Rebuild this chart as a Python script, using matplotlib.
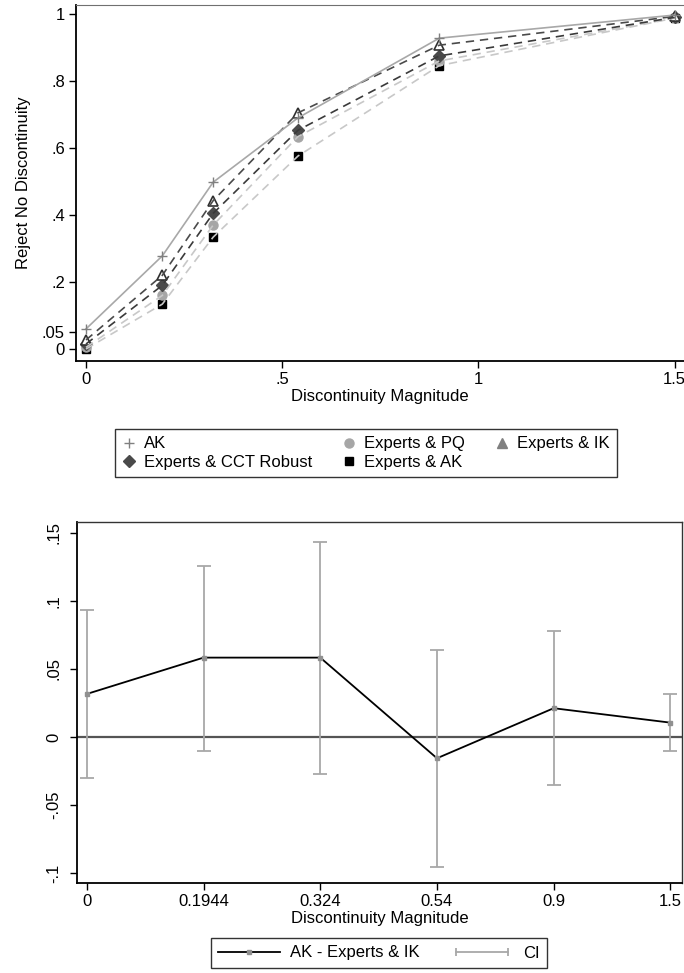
from matplotlib import pyplot as plt
from matplotlib.lines import Line2D
from matplotlib.legend_handler import HandlerLine2D
import numpy as np

# discontinuity magnitudes
mag = [0, 0.1944, 0.324, 0.54, 0.9, 1.5]
mag_labels = ["0", "0.1944", "0.324", "0.54", "0.9", "1.5"]

# rejection rates (top panel)
ak = [0.060, 0.278, 0.498, 0.690, 0.928, 0.997]
exp_ik = [0.027, 0.220, 0.443, 0.705, 0.907, 0.993]
exp_cct = [0.015, 0.190, 0.405, 0.653, 0.875, 0.990]
exp_pq = [0.005, 0.160, 0.370, 0.634, 0.860, 0.988]
exp_ak = [0.000, 0.134, 0.334, 0.576, 0.846, 0.988]

# AK - Experts & IK difference with CI (bottom panel)
diff = [0.0316, 0.0583, 0.0583, -0.0157, 0.0211, 0.0105]
ci_lo = [-0.0301, -0.0101, -0.0274, -0.0954, -0.0353, -0.0101]
ci_hi = [0.0934, 0.1260, 0.1436, 0.0642, 0.0779, 0.0314]

plt.rcParams["font.family"] = ["Liberation Sans", "DejaVu Sans"]
plt.rcParams["font.size"] = 12

W, H = 684, 973
fig = plt.figure(figsize=(W / 100, H / 100), dpi=100)

# ---- top panel ----
ax1 = fig.add_axes([76 / W, 1 - 361 / H, 1 - 76 / W, (361 - 5) / H])
ax1.plot(mag, exp_ak, color="#c8c8c8", ls=(0, (5, 3.5)), lw=1.2, zorder=2)
ax1.plot(mag, exp_pq, color="#c8c8c8", ls=(0, (5, 3.5)), lw=1.2, zorder=2)
ax1.plot(mag, exp_cct, color="#3a3a3a", ls=(0, (5, 3.5)), lw=1.2, zorder=2)
ax1.plot(mag, exp_ik, color="#4a4a4a", ls=(0, (5, 3.5)), lw=1.2, zorder=2)
ax1.plot(mag, ak, color="#a8a8a8", lw=1.2, zorder=2)

ax1.plot(mag, exp_ak, ls="none", marker="s", ms=6, color="black", zorder=1)
ax1.plot(mag, exp_pq, ls="none", marker="o", ms=6.5, color="#a6a6a6", zorder=1)
ax1.plot(mag, exp_cct, ls="none", marker="D", ms=6, color="#4a4a4a", zorder=1)
ax1.plot(mag, exp_ik, ls="none", marker="^", ms=7, mfc="white", mec="#303030", mew=1.2, zorder=1)
ax1.plot(mag, ak, ls="none", marker="+", ms=7, color="#808080", mew=1, zorder=3)

ax1.set_xlim(-0.0255, 1.5236)
ax1.set_ylim(-0.0358, 1.027)
ax1.set_xticks([0, 0.5, 1, 1.5])
ax1.set_xticklabels(["0", ".5", "1", "1.5"])
ax1.set_yticks([0, 0.05, 0.2, 0.4, 0.6, 0.8, 1])
ax1.set_yticklabels(["0", ".05", ".2", ".4", ".6", ".8", "1"])
ax1.tick_params(length=5, width=1, pad=3)
ax1.set_xlabel("Discontinuity Magnitude", labelpad=1)
ax1.set_ylabel("Reject No Discontinuity", labelpad=8)
ax1.spines["right"].set_visible(False)
ax1.spines["top"].set_color("#707070")
for s in ["left", "bottom"]:
    ax1.spines[s].set_linewidth(1.3)

handles1 = [
    Line2D([], [], ls="none", marker="+", ms=7, color="#808080", mew=1),
    Line2D([], [], ls="none", marker="D", ms=6, color="#4a4a4a"),
    Line2D([], [], ls="none", marker="o", ms=6.5, color="#a6a6a6"),
    Line2D([], [], ls="none", marker="s", ms=6, color="black"),
    Line2D([], [], ls="none", marker="^", ms=7, color="#808080"),
]
labels1 = ["AK", "Experts & CCT Robust", "Experts & PQ", "Experts & AK", "Experts & IK"]
leg1 = fig.legend(handles1, labels1, ncol=3, loc="center",
                  bbox_to_anchor=(366 / W, 1 - 453 / H),
                  frameon=True, fancybox=False, edgecolor="black",
                  handlelength=0.8, handletextpad=0.5, columnspacing=1.8,
                  borderpad=0.45, labelspacing=0.2, borderaxespad=0)
leg1.get_frame().set_linewidth(1.0)

# ---- bottom panel ----
x = np.arange(len(mag))
ax2 = fig.add_axes([77 / W, 1 - 883 / H, (682 - 77) / W, (883 - 522) / H])
ax2.axhline(0, color="#555555", lw=1.6, zorder=1)
ax2.errorbar(x, diff, yerr=[np.array(diff) - np.array(ci_lo), np.array(ci_hi) - np.array(diff)],
             fmt="none", ecolor="#a8a8a8", elinewidth=1.3, capsize=5, capthick=1.3, zorder=2)
ax2.plot(x, diff, color="black", lw=1.3, marker="s", ms=2.5, mfc="#909090", mec="#909090", zorder=3)

ax2.set_xlim(-0.085, 5.1)
ax2.set_ylim(-0.1074, 0.158)
ax2.set_xticks(x)
ax2.set_xticklabels(mag_labels)
ax2.set_yticks([-0.1, -0.05, 0, 0.05, 0.1, 0.15])
ax2.set_yticklabels(["-.1", "-.05", "0", ".05", ".1", ".15"], rotation=90, va="center")
ax2.tick_params(length=5, width=1, pad=3)
ax2.tick_params(axis="y", pad=6)
ax2.set_xlabel("Discontinuity Magnitude", labelpad=1)
for s in ["left", "bottom"]:
    ax2.spines[s].set_linewidth(1.3)
for s in ["top", "right"]:
    ax2.spines[s].set_linewidth(1.0)
    ax2.spines[s].set_color("#333333")

h_line = Line2D([], [], color="black", lw=1.3, marker="s", ms=2.5, mfc="#909090", mec="#909090")
h_ci = Line2D([], [], color="#a8a8a8", lw=1.3, marker="|", ms=6, mew=1.3)
leg2 = fig.legend([h_line, h_ci], ["AK - Experts & IK", "CI"], ncol=2, loc="center",
                  bbox_to_anchor=(379 / W, 1 - 953 / H),
                  frameon=True, fancybox=False, edgecolor="black",
                  handlelength=3.7, handletextpad=0.6, columnspacing=1.9,
                  borderpad=0.45, borderaxespad=0,
                  handler_map={h_line: HandlerLine2D(numpoints=1),
                               h_ci: HandlerLine2D(numpoints=2)})
leg2.get_frame().set_linewidth(1.0)

fig.savefig("out.png", dpi=100)
